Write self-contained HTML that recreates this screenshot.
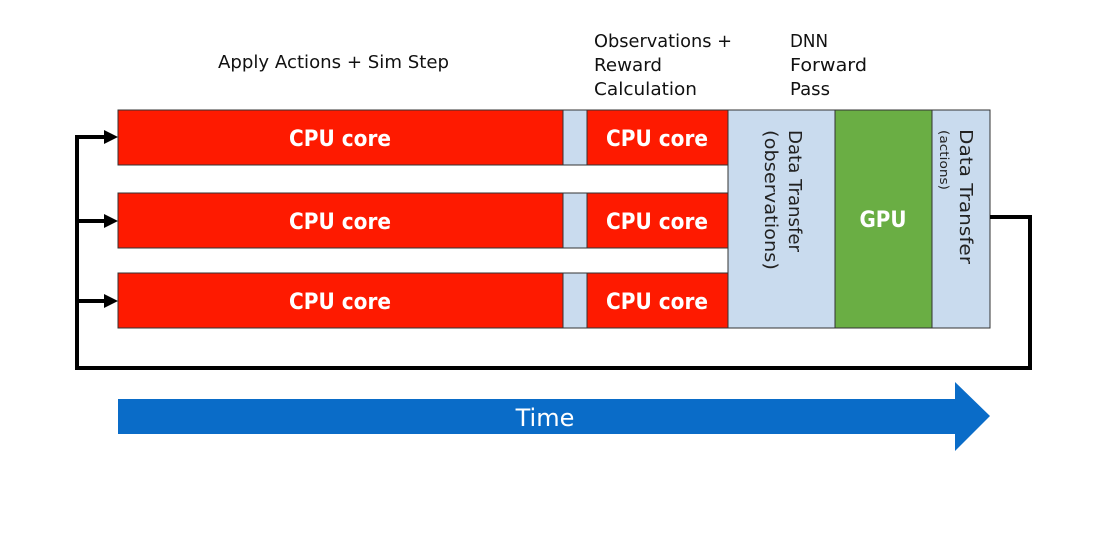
<!DOCTYPE html>
<html><head><meta charset="utf-8"><style>
html,body{margin:0;padding:0;background:#fff;}
svg{display:block;}
text{font-family:"DejaVu Sans","Liberation Sans",sans-serif;}
</style></head><body>
<svg width="1098" height="550" viewBox="0 0 1098 550" xmlns="http://www.w3.org/2000/svg">
<rect width="1098" height="550" fill="#fff"/>
<g font-size="18" fill="#111">
<text x="218" y="68" textLength="231" lengthAdjust="spacingAndGlyphs">Apply Actions + Sim Step</text>
<text x="594" y="47" textLength="138" lengthAdjust="spacingAndGlyphs">Observations +</text>
<text x="594" y="71" textLength="68" lengthAdjust="spacingAndGlyphs">Reward</text>
<text x="594" y="95" textLength="103" lengthAdjust="spacingAndGlyphs">Calculation</text>
<text x="790" y="47" textLength="38" lengthAdjust="spacingAndGlyphs">DNN</text>
<text x="790" y="71" textLength="77" lengthAdjust="spacingAndGlyphs">Forward</text>
<text x="790" y="95" textLength="40" lengthAdjust="spacingAndGlyphs">Pass</text>
</g>
<g stroke="#333" stroke-width="1">
<rect x="118" y="110" width="445" height="55" fill="#fe1a00"/>
<rect x="563" y="110" width="24" height="55" fill="#c9dbee"/>
<rect x="587" y="110" width="141" height="55" fill="#fe1a00"/>
<rect x="118" y="193" width="445" height="55" fill="#fe1a00"/>
<rect x="563" y="193" width="24" height="55" fill="#c9dbee"/>
<rect x="587" y="193" width="141" height="55" fill="#fe1a00"/>
<rect x="118" y="273" width="445" height="55" fill="#fe1a00"/>
<rect x="563" y="273" width="24" height="55" fill="#c9dbee"/>
<rect x="587" y="273" width="141" height="55" fill="#fe1a00"/>
<rect x="728" y="110" width="107" height="218" fill="#c9dbee"/>
<rect x="835" y="110" width="97" height="218" fill="#6aae44"/>
<rect x="932" y="110" width="58" height="218" fill="#c9dbee"/>
</g>
<g font-size="22" font-weight="bold" fill="#fff" text-anchor="middle">
<text x="340" y="146" textLength="102" lengthAdjust="spacingAndGlyphs">CPU core</text>
<text x="657" y="146" textLength="102" lengthAdjust="spacingAndGlyphs">CPU core</text>
<text x="340" y="229" textLength="102" lengthAdjust="spacingAndGlyphs">CPU core</text>
<text x="657" y="229" textLength="102" lengthAdjust="spacingAndGlyphs">CPU core</text>
<text x="340" y="309" textLength="102" lengthAdjust="spacingAndGlyphs">CPU core</text>
<text x="657" y="309" textLength="102" lengthAdjust="spacingAndGlyphs">CPU core</text>
<text x="883" y="227" textLength="47" lengthAdjust="spacingAndGlyphs">GPU</text>
</g>
<g fill="#222">
<text font-size="18" transform="translate(789,130) rotate(90)" textLength="122" lengthAdjust="spacingAndGlyphs">Data Transfer</text>
<text font-size="18" transform="translate(765,130) rotate(90)" textLength="140" lengthAdjust="spacingAndGlyphs">(observations)</text>
<text font-size="18" transform="translate(960,129) rotate(90)" textLength="135" lengthAdjust="spacingAndGlyphs">Data Transfer</text>
<text font-size="12" transform="translate(940,130) rotate(90)" textLength="60" lengthAdjust="spacingAndGlyphs">(actions)</text>
</g>
<g stroke="#000" stroke-width="4" fill="none">
<polyline points="990,217 1030,217 1030,368 77,368 77,137 106,137"/>
<line x1="77" y1="221" x2="106" y2="221"/>
<line x1="77" y1="301" x2="106" y2="301"/>
</g>
<g fill="#000">
<polygon points="104,130 118,137 104,144"/>
<polygon points="104,214 118,221 104,228"/>
<polygon points="104,294 118,301 104,308"/>
</g>
<polygon points="118,399 955,399 955,382 990,416 955,451 955,434 118,434" fill="#0a6cc8"/>
<text x="545" y="426" font-size="24" fill="#fff" text-anchor="middle">Time</text>
</svg>
</body></html>
